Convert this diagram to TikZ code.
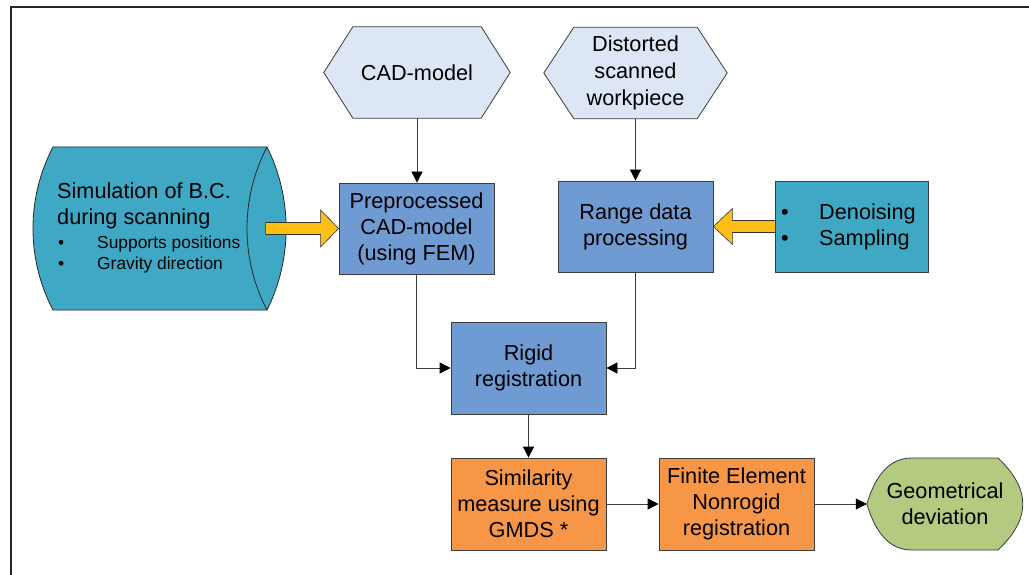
\documentclass[tikz,border=0pt]{standalone}
\usepackage{fontspec}
\setmainfont{Liberation Sans}
\usetikzlibrary{arrows.meta,backgrounds}

\definecolor{hexblue}{RGB}{220,230,245}
\definecolor{procblue}{RGB}{112,155,210}
\definecolor{teal}{RGB}{63,169,197}
\definecolor{orangebox}{RGB}{247,150,70}
\definecolor{olive}{RGB}{180,202,128}
\definecolor{fatyellow}{RGB}{255,190,20}
\definecolor{edge}{RGB}{60,60,60}

\begin{document}
\begin{tikzpicture}[x=1pt,y=-1pt]
\tikzset{
  bigtext/.style={font=\fontsize{21.7}{26}\selectfont},
  smalltext/.style={font=\fontsize{17.4}{21}\selectfont},
  boxbase/.style={draw=edge, line width=0.8pt, minimum width=155pt,
    minimum height=91pt, align=center, inner sep=2pt, bigtext},
  procbox/.style={boxbase, fill=procblue},
  orbox/.style={boxbase, fill=orangebox},
  tealbox/.style={boxbase, fill=teal, minimum width=153pt},
  hexnode/.style={minimum height=91pt, inner sep=0pt, align=center, bigtext},
  hexshape/.style={draw=edge, line width=0.8pt, fill=hexblue},
  conn/.style={draw=edge, line width=0.8pt,
    -{Triangle[length=11pt,width=11pt,color=black]}},
  fatarrow/.style={draw=black!80, line width=0.6pt, fill=fatyellow},
  listtext/.style={anchor=west, align=left, inner sep=0pt},
}
\useasboundingbox (0,0) rectangle (1029,575);
\clip (0,0) rectangle (1029,575);

% page frame
\draw[line width=2pt, black!85] (11,600) -- (11,7) -- (1100,7);

% inputs
\node[hexnode, minimum width=186pt] (cad) at (417,72.5) {CAD-model};
\node[hexnode, minimum width=183pt] (dist) at (635.5,73) {Distorted\\[1pt]scanned\\[1pt]workpiece};

% processing steps
\node[procbox] (pre) at (416.5,228.5) {Preprocessed\\CAD-model\\(using FEM)};
\node[procbox] (rng) at (635.5,226.5) {Range data\\processing};
\node[procbox, minimum height=92pt] (rig) at (528.5,368) {Rigid\\registration};
\node[orbox, minimum height=92pt] (simm) at (528.5,504) {Similarity\\measure using\\GMDS *};
\node[orbox, minimum height=92pt] (fin) at (736.5,504) {Finite Element\\Nonrogid\\registration};
\node[hexnode, minimum width=156pt, minimum height=92pt] (geo) at (945,504) {Geometrical\\deviation};

% boundary conditions (cylinder)
\node[listtext, bigtext] (simtitle) at (57,206) {Simulation of B.C.\\during scanning};
\node[listtext, smalltext] (simlist) at (58,254.5)
  {\makebox[39pt][l]{\textbullet}Supports positions\\\makebox[39pt][l]{\textbullet}Gravity direction};

% filtering box
\node[tealbox] (den) at (851.5,226.5) {};
\node[listtext, bigtext] (denlist) at (781,226.5)
  {\makebox[38pt][l]{\textbullet}Denoising\\\makebox[38pt][l]{\textbullet}Sampling};

\begin{scope}[on background layer]
  % hexagons
  \draw[hexshape] (cad.west) -- ([xshift=29pt]cad.north west) -- ([xshift=-29pt]cad.north east)
    -- (cad.east) -- ([xshift=-29pt]cad.south east) -- ([xshift=29pt]cad.south west) -- cycle;
  \draw[hexshape] (dist.west) -- ([xshift=30pt]dist.north west) -- ([xshift=-30pt]dist.north east)
    -- (dist.east) -- ([xshift=-30pt]dist.south east) -- ([xshift=30pt]dist.south west) -- cycle;
  % cylinder lying on its side
  \draw[draw=black!85, line width=0.8pt, fill=teal]
    (53,147) -- (267,147) .. controls (292.5,198) and (292.5,259) .. (267,310) -- (53,310)
    .. controls (26.3,259) and (26.3,198) .. (53,147) -- cycle;
  \draw[black!85, line width=0.8pt] (267,147) .. controls (240.3,198) and (240.3,259) .. (267,310);
  % display shape for the result
  \draw[draw=edge, line width=0.8pt, fill=olive]
    (geo.west) .. controls (876,474) and (890,458) .. (912,458) -- (998,458)
    .. controls (1031,489) and (1031,519) .. (998,550) -- (912,550)
    .. controls (890,550) and (876,534) .. (geo.west) -- cycle;
  % block arrows
  \draw[fatarrow] (pre.west) -- ++(-18,-18.5) -- ++(0,12.5) -- ++(-55,0) -- ++(0,12)
    -- ++(55,0) -- ++(0,12.5) -- cycle;
  \draw[fatarrow] (rng.east) -- ++(19,-18) -- ++(0,12) -- ++(43,0) -- ++(0,12)
    -- ++(-43,0) -- ++(0,12) -- cycle;
\end{scope}

% connectors
\draw[conn] (cad.south) -- (cad.south |- pre.north);
\draw[conn] (dist.south) -- (dist.south |- rng.north);
\draw[conn] (pre.south) |- (rig.west);
\draw[conn] (rng.south) |- (rig.east);
\draw[conn] (rig.south) -- (simm.north);
\draw[conn] (simm.east) -- (fin.west);
\draw[conn] (fin.east) -- (geo.west);
\end{tikzpicture}
\end{document}
